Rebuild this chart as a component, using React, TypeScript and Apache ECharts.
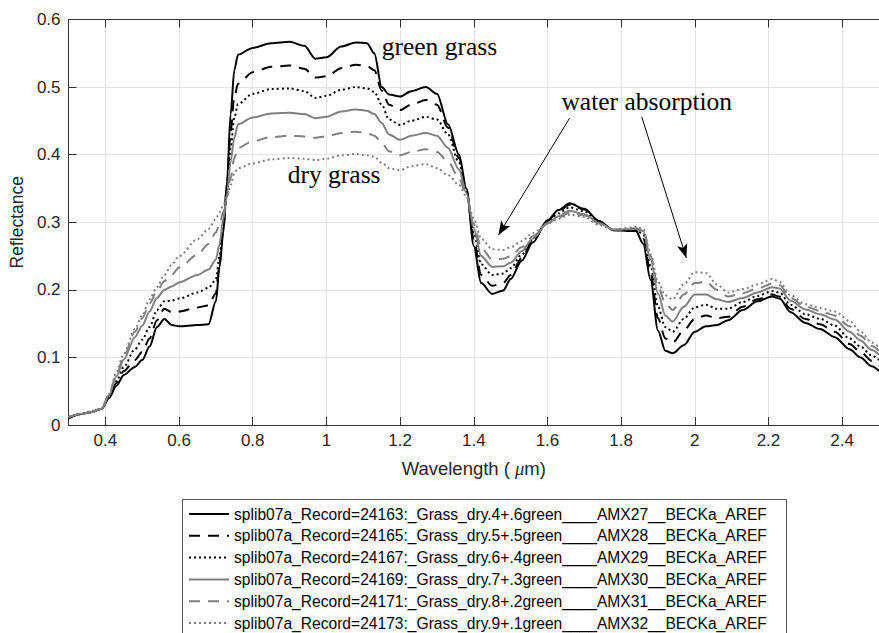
import React, { useEffect, useRef } from "react";
import * as echarts from "echarts";

const WAVELENGTH = [0.30,0.33,0.36,0.39,0.41,0.43,0.45,0.48,0.50,0.52,0.54,0.56,0.58,0.60,0.65,0.68,0.70,0.71,0.72,0.73,0.74,0.75,0.76,0.80,0.85,0.90,0.94,0.97,1.00,1.04,1.08,1.11,1.13,1.15,1.17,1.20,1.23,1.27,1.30,1.33,1.36,1.38,1.40,1.42,1.45,1.48,1.50,1.53,1.56,1.60,1.63,1.66,1.70,1.74,1.78,1.84,1.86,1.88,1.90,1.92,1.94,1.97,2.00,2.03,2.06,2.09,2.13,2.17,2.21,2.23,2.26,2.30,2.34,2.38,2.42,2.45,2.48,2.50];

const S1 = [0.010,0.016,0.019,0.024,0.040,0.058,0.074,0.086,0.096,0.116,
0.145,0.157,0.148,0.146,0.148,0.149,0.183,0.234,0.284,0.360,
0.460,0.525,0.548,0.558,0.565,0.567,0.561,0.542,0.544,0.560,
0.566,0.565,0.550,0.500,0.489,0.486,0.494,0.500,0.490,0.445,
0.400,0.350,0.265,0.210,0.194,0.199,0.216,0.243,0.270,0.303,
0.318,0.328,0.320,0.302,0.288,0.287,0.268,0.215,0.140,0.110,
0.106,0.118,0.138,0.146,0.148,0.155,0.170,0.183,0.190,0.187,
0.167,0.151,0.142,0.130,0.112,0.100,0.087,0.080];

const S2 = [0.010,0.016,0.019,0.024,0.041,0.062,0.080,0.096,0.108,0.128,
0.155,0.172,0.167,0.168,0.174,0.177,0.195,0.240,0.290,0.352,
0.435,0.485,0.505,0.522,0.530,0.532,0.527,0.514,0.516,0.528,
0.533,0.531,0.525,0.495,0.474,0.466,0.474,0.481,0.474,0.440,
0.395,0.348,0.275,0.222,0.206,0.210,0.222,0.247,0.272,0.302,
0.316,0.326,0.319,0.301,0.288,0.288,0.276,0.225,0.158,0.128,
0.122,0.140,0.157,0.162,0.158,0.160,0.175,0.186,0.193,0.190,
0.172,0.157,0.149,0.138,0.120,0.108,0.095,0.088];

const S3 = [0.011,0.016,0.019,0.024,0.042,0.065,0.086,0.112,0.126,0.145,
0.170,0.183,0.184,0.187,0.196,0.203,0.215,0.250,0.295,0.345,
0.410,0.455,0.475,0.490,0.497,0.498,0.494,0.484,0.487,0.496,
0.500,0.498,0.493,0.474,0.452,0.444,0.450,0.456,0.452,0.430,
0.388,0.346,0.285,0.238,0.222,0.224,0.232,0.252,0.274,0.300,
0.313,0.322,0.316,0.300,0.289,0.289,0.282,0.235,0.175,0.145,
0.138,0.157,0.174,0.178,0.172,0.172,0.182,0.191,0.198,0.196,
0.178,0.164,0.157,0.147,0.128,0.116,0.103,0.096];

const S4 = [0.011,0.016,0.019,0.024,0.044,0.072,0.097,0.130,0.147,0.168,
0.188,0.200,0.205,0.211,0.222,0.230,0.245,0.268,0.305,0.340,
0.390,0.425,0.445,0.455,0.461,0.462,0.460,0.454,0.456,0.464,
0.467,0.465,0.460,0.447,0.430,0.422,0.428,0.432,0.428,0.410,
0.378,0.343,0.292,0.250,0.234,0.235,0.240,0.257,0.276,0.298,
0.309,0.317,0.312,0.299,0.289,0.290,0.287,0.245,0.195,0.162,
0.153,0.175,0.193,0.193,0.186,0.182,0.188,0.196,0.204,0.202,
0.184,0.171,0.164,0.156,0.138,0.125,0.111,0.104];

const S5 = [0.012,0.016,0.019,0.024,0.045,0.074,0.101,0.138,0.158,0.180,
0.198,0.213,0.222,0.233,0.252,0.268,0.285,0.298,0.315,0.337,
0.365,0.395,0.410,0.420,0.426,0.428,0.427,0.425,0.427,0.432,
0.434,0.432,0.428,0.418,0.405,0.399,0.404,0.408,0.404,0.390,
0.365,0.340,0.298,0.262,0.245,0.246,0.250,0.263,0.279,0.298,
0.307,0.314,0.310,0.298,0.289,0.291,0.289,0.250,0.205,0.180,
0.170,0.193,0.210,0.212,0.200,0.190,0.195,0.202,0.209,0.207,
0.188,0.175,0.169,0.162,0.146,0.132,0.117,0.110];

const S6 = [0.012,0.016,0.019,0.024,0.046,0.078,0.106,0.142,0.162,0.186,
0.204,0.222,0.237,0.250,0.275,0.290,0.305,0.315,0.325,0.338,
0.355,0.372,0.380,0.387,0.393,0.395,0.394,0.392,0.394,0.399,
0.401,0.399,0.397,0.388,0.380,0.377,0.383,0.386,0.380,0.370,
0.355,0.338,0.305,0.276,0.260,0.259,0.263,0.272,0.284,0.298,
0.305,0.311,0.308,0.296,0.289,0.293,0.290,0.252,0.212,0.192,
0.186,0.208,0.226,0.225,0.208,0.196,0.201,0.208,0.216,0.212,
0.192,0.179,0.173,0.168,0.154,0.138,0.122,0.115];

const SERIES_VALUES = [S1, S2, S3, S4, S5, S6];

const SERIES_NAMES = [
  "splib07a_Record=24163:_Grass_dry.4+.6green____AMX27__BECKa_AREF",
  "splib07a_Record=24165:_Grass_dry.5+.5green____AMX28__BECKa_AREF",
  "splib07a_Record=24167:_Grass_dry.6+.4green____AMX29__BECKa_AREF",
  "splib07a_Record=24169:_Grass_dry.7+.3green____AMX30__BECKa_AREF",
  "splib07a_Record=24171:_Grass_dry.8+.2green____AMX31__BECKa_AREF",
  "splib07a_Record=24173:_Grass_dry.9+.1green____AMX32__BECKa_AREF",
];

const X_TICKS = [0.4, 0.6, 0.8, 1.0, 1.2, 1.4, 1.6, 1.8, 2.0, 2.2, 2.4];

const ANNOTATIONS = [
  { text: "green grass", at: [1.150, 0.560] },
  { text: "dry grass", at: [0.895, 0.370] },
  { text: "water absorption", at: [1.638, 0.479] },
];

const ARROWS = [
  { from: [1.660, 0.454], to: [1.467, 0.281] },
  { from: [1.856, 0.456], to: [1.977, 0.247] },
];

const STYLES = [
  { color: "#000000", type: "solid" },
  { color: "#000000", type: [11, 8] },
  { color: "#000000", type: [2, 3] },
  { color: "#808080", type: "solid" },
  { color: "#808080", type: [11, 8] },
  { color: "#808080", type: [2, 3] },
];

const SANS = "Arial, 'Liberation Sans', Helvetica, sans-serif";
const SERIF = "'Times New Roman', 'Liberation Serif', Times, serif";
const AXIS_COLOR = "#333333";
const GRID_COLOR = "#e3e3e3";

export default function App() {
  const ref = useRef<HTMLDivElement>(null);

  useEffect(() => {
    document.body.style.margin = "0";
    const chart = echarts.init(ref.current!, null, { renderer: "svg" });

    const series: any[] = SERIES_VALUES.map((vals, si) => ({
      name: SERIES_NAMES[si],
      type: "line",
      data: WAVELENGTH.map((w, i) => [w, vals[i]]),
      symbol: "none",
      smooth: 0.3,
      smoothMonotone: "x",
      color: STYLES[si].color,
      lineStyle: { color: STYLES[si].color, width: 2, type: STYLES[si].type },
      emphasis: { disabled: true },
      silent: true,
      z: 2 + si,
    }));

    series.push({
      name: "arrows",
      type: "line",
      data: [],
      symbol: "none",
      silent: true,
      markLine: {
        silent: true,
        symbol: ["none", "arrow"],
        symbolSize: [8, 14],
        label: { show: false },
        lineStyle: { color: "#000", width: 1, type: "solid" },
        emphasis: { disabled: true },
        data: ARROWS.map((a) => [{ coord: a.from }, { coord: a.to }]),
      },
      z: 10,
    });

    const axisCommon = {
      type: "value",
      min: 0.3,
      max: 2.5,
    };

    chart.setOption({
      animation: false,
      grid: { left: 67.7, top: 19.5, right: -8, bottom: 208, containLabel: false },
      legend: {
        orient: "vertical",
        left: 188,
        top: 506,
        height: 200,
        padding: 0,
        itemWidth: 40,
        itemHeight: 16,
        itemGap: 5.8,
        selectedMode: false,
        data: SERIES_NAMES,
        itemStyle: { opacity: 0, borderWidth: 0 },
        textStyle: { fontSize: 15.6, color: "#000", fontFamily: SANS, lineHeight: 16 },
      },
      xAxis: [
        {
          ...axisCommon,
          position: "bottom",
          axisLine: { show: true, onZero: false, lineStyle: { color: AXIS_COLOR, width: 1 } },
          axisTick: { show: true, inside: true, length: 8, customValues: X_TICKS, lineStyle: { color: AXIS_COLOR } },
          axisLabel: { customValues: X_TICKS, margin: 7, fontSize: 17, color: "#262626", fontFamily: SANS },
          splitLine: { show: true, lineStyle: { color: GRID_COLOR, width: 1 } },
          name: "Wavelength ( {i|μ}m)",
          nameLocation: "middle",
          nameGap: 34,
          nameTextStyle: {
            fontSize: 18.5,
            color: "#262626",
            fontFamily: SANS,
            rich: { i: { fontStyle: "italic", fontSize: 18.5, fontFamily: SERIF, color: "#262626" } },
          },
        },
        {
          ...axisCommon,
          position: "top",
          axisLine: { show: true, onZero: false, lineStyle: { color: AXIS_COLOR, width: 1 } },
          axisTick: { show: true, inside: true, length: 8, customValues: X_TICKS, lineStyle: { color: AXIS_COLOR } },
          axisLabel: { show: false },
          splitLine: { show: false },
        },
      ],
      yAxis: [
        {
          type: "value",
          min: 0,
          max: 0.6,
          interval: 0.1,
          position: "left",
          axisLine: { show: true, onZero: false, lineStyle: { color: AXIS_COLOR, width: 1 } },
          axisTick: { show: true, inside: true, length: 8, lineStyle: { color: AXIS_COLOR } },
          axisLabel: { margin: 8, fontSize: 17, color: "#262626", fontFamily: SANS },
          splitLine: { show: true, lineStyle: { color: GRID_COLOR, width: 1 } },
          name: "Reflectance",
          nameLocation: "middle",
          nameGap: 42,
          nameTextStyle: { fontSize: 17.5, color: "#262626", fontFamily: SANS },
        },
      ],
      series,
    });

    const texts = ANNOTATIONS.map((a) => {
      const p = chart.convertToPixel({ gridIndex: 0 }, a.at) as number[];
      return {
        type: "text",
        x: p[0],
        y: p[1],
        silent: true,
        z: 20,
        style: {
          text: a.text,
          fill: "#000",
          font: `25.5px ${SERIF}`,
          textAlign: "left",
          textVerticalAlign: "middle",
          verticalAlign: "middle",
        },
      };
    });

    chart.setOption({
      graphic: [
        {
          type: "rect",
          shape: { x: 182.5, y: 499.5, width: 604, height: 150 },
          style: { fill: "none", stroke: "#555555", lineWidth: 1 },
          silent: true,
          z: 0,
        },
        ...texts,
      ],
    });

    return () => chart.dispose();
  }, []);

  return (
    <div
      ref={ref}
      style={{ position: "fixed", left: 0, top: 0, width: 879, height: 633, background: "#fff" }}
    />
  );
}
